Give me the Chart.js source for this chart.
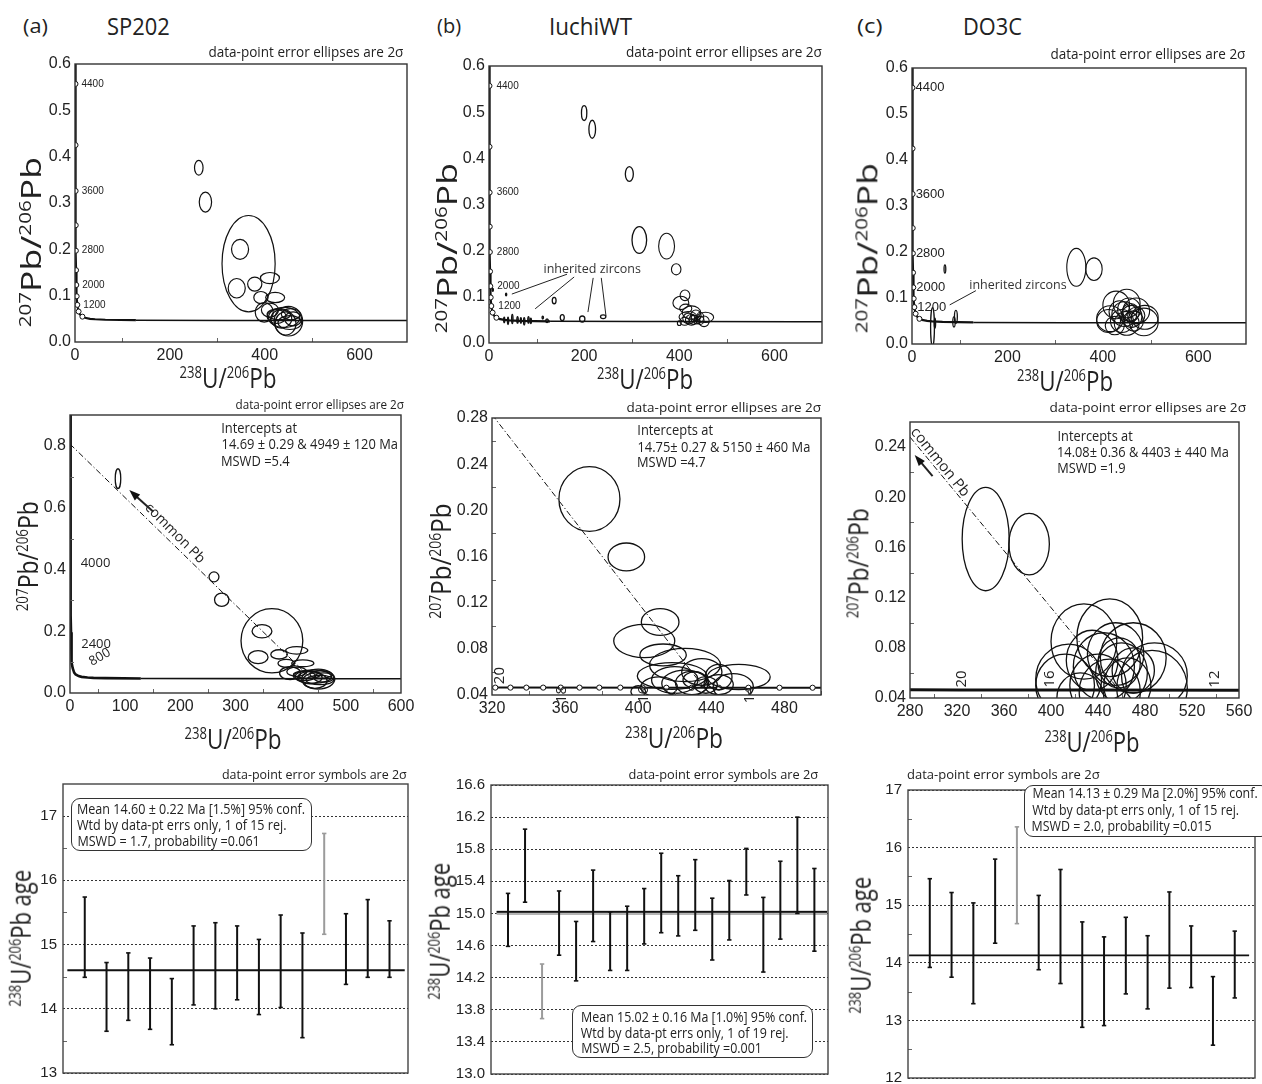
<!DOCTYPE html>
<html>
<head>
<meta charset="utf-8">
<title>U-Pb zircon: SP202, IuchiWT, DO3C</title>
<script src="https://cdn.jsdelivr.net/npm/chart.js@4.4.1/dist/chart.umd.min.js"></script>
<style>
  html, body { margin: 0; padding: 0; background: #fff; }
  #stage { position: relative; width: 1262px; height: 1084px; overflow: hidden;
           font-family: "Open Sans", "Noto Sans", sans-serif; color: #222; }
  .box { position: absolute; }
  .t { position: absolute; white-space: nowrap; line-height: 1.2; }
  .t sup { font-size: 0.58em; vertical-align: 0; position: relative; top: -0.62em; }
  .frame { position: absolute; border: 1.3px solid #333; border-radius: 9px; background: #fff; box-sizing: border-box; }
</style>
</head>
<body>
<div id="stage"></div>
<script>
// concordia curve (238U/206Pb, 207Pb/206Pb)
const concX = [0.806, 0.853, 0.960, 1.022, 1.163, 1.337, 1.556, 1.838, 2.217, 2.749, 3.549, 4.887, 7.57, 10.25, 15.62, 20.99, 31.73, 42.48, 63.96, 128.4];
const concY = [0.974, 0.845, 0.639, 0.557, 0.425, 0.326, 0.252, 0.197, 0.155, 0.123, 0.0987, 0.0801, 0.0658, 0.0599, 0.0547, 0.0523, 0.0501, 0.0491, 0.0480, 0.0470];
const concTailX = [128.4, 321.8, 429.3, 644.1, 715.6];
const concTailY = [0.0470, 0.0464, 0.0463, 0.0462, 0.0462];

// age marks on the concordia (Ma)
const markAge = ['4400', '4000', '3600', '3200', '2800', '2400', '2000', '1600', '1200', '800', '400'];
const markX = [1.022, 1.163, 1.337, 1.556, 1.838, 2.217, 2.749, 3.549, 4.887, 7.57, 15.62];
const markY = [0.557, 0.425, 0.326, 0.252, 0.197, 0.155, 0.123, 0.0987, 0.0801, 0.0658, 0.0547];
const markLabelled = ['4400', '3600', '2800', '2000', '1200'];

const youngAge = ['20', '19.5', '19', '18.5', '18', '17.5', '17', '16.5', '16', '15.5', '15', '14.5', '14', '13.5', '13'];
const youngX = [321.8, 330.1, 338.8, 348.0, 357.6, 367.9, 378.7, 390.2, 402.4, 415.4, 429.3, 444.1, 460.3, 477.3, 495.4];
const youngY = [0.0464, 0.0464, 0.0464, 0.0464, 0.0464, 0.0464, 0.0464, 0.0464, 0.0464, 0.0463, 0.0463, 0.0463, 0.0463, 0.0463, 0.0463];
const youngLabelled = ['20', '18', '16', '14'];
const doLabelAge = ['20', '16', '12'];
const doLabelX = [321.8, 402.4, 536.7];
const doLabelY = [0.0464, 0.0464, 0.0463];

// SP202 ellipses (centre, 2 sigma half axes)
const spX  = [87, 261, 275, 366, 348, 341, 379, 411, 392, 422, 399, 450, 411, 441, 453, 444, 425, 435, 455, 430, 460];
const spY  = [0.694, 0.376, 0.302, 0.169, 0.200, 0.116, 0.125, 0.138, 0.096, 0.096, 0.064, 0.045, 0.069, 0.053, 0.042, 0.040, 0.055, 0.050, 0.060, 0.060, 0.050];
const spRx = [5, 9, 13, 56, 18, 18, 15, 20, 15, 20, 19, 30, 18, 33, 25, 22, 20, 22, 20, 25, 18];
const spRy = [0.032, 0.016, 0.0215, 0.104, 0.0215, 0.021, 0.015, 0.012, 0.013, 0.011, 0.021, 0.032, 0.015, 0.0216, 0.015, 0.025, 0.015, 0.020, 0.012, 0.012, 0.015];
const spDiscX = [0, 437];
const spDiscY = [0.806, 0.047];
const spArrowX = [151, 107.5];
const spArrowY = [0.587, 0.657];

// IuchiWT ellipses
const iuX  = [373.3, 393.5, 412, 403.3, 413.6, 425.6, 418.5, 455, 444, 434.8, 429.4, 437, 425.6, 411.4, 444, 400, 452, 431, 420];
const iuY  = [0.2098, 0.1596, 0.1033, 0.0868, 0.0747, 0.066, 0.0565, 0.0556, 0.0556, 0.060, 0.0504, 0.0487, 0.050, 0.047, 0.049, 0.043, 0.047, 0.053, 0.053];
const iuRx = [16.7, 10, 10.3, 16.7, 12.7, 19.4, 19, 17.2, 7.3, 11, 9, 6.3, 12.7, 10, 8, 4, 11, 6.5, 12.7];
const iuRy = [0.028, 0.0121, 0.0116, 0.0144, 0.0095, 0.0144, 0.0116, 0.011, 0.011, 0.0116, 0.010, 0.0072, 0.0116, 0.0087, 0.0087, 0.005, 0.0115, 0.007, 0.0116];
// IuchiWT spots only seen on the full-range plot (inherited and high common Pb)
const iuOldX  = [200, 217, 295, 316, 8, 36, 137, 154, 196, 240, 122, 113, 32, 40, 49, 60, 67, 74, 83, 88];
const iuOldY  = [0.498, 0.463, 0.366, 0.223, 0.115, 0.105, 0.092, 0.055, 0.052, 0.057, 0.048, 0.055, 0.050, 0.048, 0.052, 0.050, 0.049, 0.047, 0.050, 0.048];
const iuOldRx = [5.6, 7, 8.4, 15.4, 1, 1.2, 4, 4.2, 5.6, 5.6, 2.8, 1.5, 1.2, 1.2, 1.5, 1.5, 1.2, 1.5, 1.5, 1.2];
const iuOldRy = [0.016, 0.0195, 0.016, 0.029, 0.003, 0.003, 0.007, 0.0065, 0.0065, 0.004, 0.004, 0.003, 0.006, 0.008, 0.010, 0.007, 0.006, 0.008, 0.007, 0.006];
const iuDiscX = [320, 436];
const iuDiscY = [0.283, 0.0464];
const iuLeadX1 = [164, 179, 219, 236];
const iuLeadY1 = [0.149, 0.143, 0.141, 0.141];
const iuLeadX2 = [48, 97, 208, 246];
const iuLeadY2 = [0.106, 0.074, 0.067, 0.058];

// DO3C ellipses
const doX  = [344.4, 381.4, 428, 450, 415, 412, 470, 488, 486, 445, 455, 460, 440, 465, 450, 435, 458, 425, 470];
const doY  = [0.1667, 0.1627, 0.085, 0.088, 0.055, 0.050, 0.072, 0.058, 0.048, 0.065, 0.075, 0.060, 0.050, 0.050, 0.045, 0.070, 0.068, 0.040, 0.062];
const doRx = [20, 17.2, 28, 28, 28, 25, 28, 28, 30, 26, 24, 22, 24, 20, 26, 22, 18, 20, 18];
const doRy = [0.0412, 0.0245, 0.030, 0.031, 0.028, 0.025, 0.028, 0.026, 0.030, 0.027, 0.025, 0.024, 0.025, 0.022, 0.026, 0.024, 0.020, 0.020, 0.018];
const doOldX  = [69, 92, 88, 43, 48];
const doOldY  = [0.163, 0.059, 0.048, 0.037, 0.045];
const doOldRx = [1.8, 3, 2.5, 4, 1.5];
const doOldRy = [0.009, 0.014, 0.011, 0.042, 0.011];
const doDiscX = [280, 458];
const doDiscY = [0.248, 0.0464];
const doArrowX = [299.2, 284];
const doArrowY = [0.2169, 0.2336];
const doLeadX1 = [134];
const doLeadY1 = [0.116];
const doLeadX2 = [79];
const doLeadY2 = [0.085];

// 238U/206Pb ages (Ma), 2 sigma low / high
const spAgeLo = [14.49, 13.65, 13.82, 13.68, 13.44, 14.06, 14.00, 14.14, 13.91, 14.02, 13.55, 15.16, 14.38, 14.49, 14.49];
const spAgeHi = [15.74, 14.72, 14.87, 14.79, 14.47, 15.29, 15.34, 15.29, 15.08, 15.46, 15.18, 16.73, 15.48, 15.70, 15.37];
const spRejected = 11;
const spMean = 14.60;
const iuAgeLo = [14.59, 15.14, 13.69, 14.48, 14.16, 14.65, 14.29, 14.29, 14.62, 14.76, 14.72, 14.79, 14.42, 14.67, 15.23, 14.27, 14.68, 15.00, 14.53];
const iuAgeHi = [15.25, 16.05, 14.37, 15.28, 14.90, 15.54, 15.02, 15.09, 15.31, 15.75, 15.47, 15.67, 15.19, 15.41, 15.81, 15.20, 15.65, 16.20, 15.56];
const iuRejected = 2;
const iuMean = 15.02;
const doAgeLo = [13.92, 13.75, 13.29, 14.34, 14.68, 13.88, 13.64, 12.88, 12.91, 13.46, 13.20, 13.56, 13.57, 12.57, 13.39];
const doAgeHi = [15.46, 15.22, 15.04, 15.80, 16.36, 15.17, 15.62, 14.71, 14.45, 14.79, 14.47, 15.23, 14.64, 13.76, 14.55];
const doRejected = 4;
const doMean = 14.13;

// ticks
const tickX1 = [0, 200, 400, 600];
const tickY1 = [0, 0.1, 0.2, 0.3, 0.4, 0.5, 0.6];
const minorX1 = [100, 300, 500];
const tickXa2 = [0, 100, 200, 300, 400, 500, 600];
const tickYa2 = [0, 0.2, 0.4, 0.6, 0.8];
const minorXa2 = [50, 150, 250, 350, 450, 550];
const minorYa2 = [0.1, 0.3, 0.5, 0.7];
const tickXb2 = [320, 360, 400, 440, 480];
const tickYb2 = [0.04, 0.08, 0.12, 0.16, 0.20, 0.24, 0.28];
const minorXb2 = [340, 380, 420, 460, 500];
const minorYb2 = [0.06, 0.10, 0.14, 0.18, 0.22, 0.26];
const tickXc2 = [280, 320, 360, 400, 440, 480, 520, 560];
const tickYc2 = [0.04, 0.08, 0.12, 0.16, 0.20, 0.24];
const minorXc2 = [300, 340, 380, 420, 460, 500, 540];
const minorYc2 = [0.06, 0.10, 0.14, 0.18, 0.22];
const tickYa3 = [13, 14, 15, 16, 17];
const minorYa3 = [13.5, 14.5, 15.5, 16.5];
const tickYb3 = [13.0, 13.4, 13.8, 14.2, 14.6, 15.0, 15.4, 15.8, 16.2, 16.6];
const tickYc3 = [12, 13, 14, 15, 16, 17];
const minorYc3 = [12.5, 13.5, 14.5, 15.5, 16.5];

const stage = document.getElementById('stage');
const extras = {};
const TICK_FONT = { family: '"Liberation Sans", Arial, sans-serif', size: 16 };
const pts = (xs, ys) => xs.map((x, i) => ({ x, y: ys[i] }));

Chart.register({
  id: 'geoMarks',
  afterDatasetsDraw(chart) {
    const ex = extras[chart.canvas.id];
    if (!ex) return;
    const { ctx, chartArea: a } = chart;
    const xs = chart.scales.x, ys = chart.scales.y;
    // error ellipses
    chart.data.datasets.forEach((ds, i) => {
      if (!ds.rx) return;
      const meta = chart.getDatasetMeta(i);
      ctx.save();
      ctx.beginPath();
      ctx.rect(a.left, a.top, a.right - a.left, a.bottom - a.top);
      ctx.clip();
      ctx.strokeStyle = '#111';
      ctx.lineWidth = ds.ellipseWidth || 1.2;
      meta.data.forEach((p, j) => {
        const v = ds.data[j];
        const rxp = Math.abs(xs.getPixelForValue(v.x + ds.rx[j]) - p.x);
        const ryp = Math.abs(ys.getPixelForValue(v.y + ds.ry[j]) - p.y);
        ctx.beginPath();
        ctx.ellipse(p.x, p.y, Math.max(rxp, 0.6), Math.max(ryp, 0.6), 0, 0, Math.PI * 2);
        ctx.stroke();
      });
      ctx.restore();
    });
    // minor ticks
    ctx.save();
    ctx.strokeStyle = '#666';
    ctx.lineWidth = 1;
    (ex.minorX || []).forEach(v => {
      const px = Math.round(xs.getPixelForValue(v)) + 0.5;
      ctx.beginPath(); ctx.moveTo(px, a.bottom); ctx.lineTo(px, a.bottom - 4); ctx.stroke();
    });
    (ex.minorY || []).forEach(v => {
      const py = Math.round(ys.getPixelForValue(v)) + 0.5;
      ctx.beginPath(); ctx.moveTo(a.left, py); ctx.lineTo(a.left + 4, py); ctx.stroke();
    });
    ctx.restore();
    // notes
    (ex.notes || []).forEach(n => {
      ctx.save();
      if (n.kind === 'text') {
        ctx.translate(xs.getPixelForValue(n.x) + (n.dx || 0), ys.getPixelForValue(n.y) + (n.dy || 0));
        ctx.rotate((n.rot || 0) * Math.PI / 180);
        ctx.font = n.font;
        ctx.fillStyle = n.color || '#222';
        ctx.textAlign = n.align || 'left';
        ctx.textBaseline = 'middle';
        ctx.fillText(n.text, 0, 0);
      } else {
        const x1 = xs.getPixelForValue(n.x1), y1 = ys.getPixelForValue(n.y1);
        const x2 = xs.getPixelForValue(n.x2), y2 = ys.getPixelForValue(n.y2);
        ctx.strokeStyle = '#222';
        ctx.fillStyle = '#111';
        ctx.lineWidth = n.kind === 'arrow' ? 2 : 1;
        const ang = Math.atan2(y2 - y1, x2 - x1);
        const back = n.kind === 'arrow' ? 8 : 0;
        ctx.beginPath();
        ctx.moveTo(x1, y1);
        ctx.lineTo(x2 - back * Math.cos(ang), y2 - back * Math.sin(ang));
        ctx.stroke();
        if (n.kind === 'arrow') {
          ctx.beginPath();
          ctx.moveTo(x2, y2);
          ctx.lineTo(x2 - 11 * Math.cos(ang) + 4 * Math.sin(ang), y2 - 11 * Math.sin(ang) - 4 * Math.cos(ang));
          ctx.lineTo(x2 - 11 * Math.cos(ang) - 4 * Math.sin(ang), y2 - 11 * Math.sin(ang) + 4 * Math.cos(ang));
          ctx.closePath();
          ctx.fill();
        }
      }
      ctx.restore();
    });
  },
  afterDraw(chart) {
    const ex = extras[chart.canvas.id];
    if (!ex) return;
    const { ctx, chartArea: a } = chart;
    ctx.save();
    ctx.strokeStyle = ex.frameColor || '#333';
    ctx.lineWidth = 1.4;
    ctx.strokeRect(a.left, a.top, a.right - a.left, a.bottom - a.top);
    ctx.restore();
  }
});

function axis(min, max, ticks, digits, show) {
  return {
    type: 'linear', min, max,
    grid: { display: false, drawTicks: false },
    border: { display: false },
    ticks: {
      display: show !== false, font: TICK_FONT, color: '#222', padding: 4,
      autoSkip: false, maxRotation: 0, callback: v => v.toFixed(digits)
    },
    afterBuildTicks: s => { s.ticks = ticks.map(v => ({ value: v })); }
  };
}

function mountChart(id, area, config, extra) {
  const padL = 60, padR = 30, padT = 14, padB = 32;
  const div = document.createElement('div');
  div.className = 'box';
  div.style.left = (area.l - padL) + 'px';
  div.style.top = (area.t - padT) + 'px';
  div.style.width = (area.r - area.l + padL + padR) + 'px';
  div.style.height = (area.b - area.t + padT + padB) + 'px';
  const cv = document.createElement('canvas');
  cv.id = id;
  div.appendChild(cv);
  stage.appendChild(div);
  extras[id] = extra || {};
  const o = config.options;
  o.responsive = true;
  o.maintainAspectRatio = false;
  o.animation = false;
  o.events = [];
  o.plugins = { legend: { display: false }, tooltip: { enabled: false } };
  o.layout = { autoPadding: false, padding: { left: 0, right: padR, top: padT, bottom: 0 } };
  o.scales.x.afterFit = s => { s.height = padB; };
  o.scales.y.afterFit = s => { s.width = padL; };
  return new Chart(cv, config);
}

const lineDs = (xs, ys, w, dash) => ({
  type: 'line', data: pts(xs, ys), borderColor: '#111', borderWidth: w,
  borderDash: dash || [], pointRadius: 0, fill: false, tension: 0
});
const markDs = (xs, ys, r) => ({
  data: pts(xs, ys), pointRadius: r, pointBackgroundColor: '#fff',
  pointBorderColor: '#111', pointBorderWidth: 1
});
const ellDs = (xs, ys, rx, ry, w) => ({ data: pts(xs, ys), pointRadius: 0, rx, ry, ellipseWidth: w });
const DASHDOT = [6, 2.5, 1.2, 2.5];

function scatterPanel(id, area, xAx, yAx, datasets, extra) {
  return mountChart(id, area, { type: 'scatter', data: { datasets }, options: { scales: { x: xAx, y: yAx } } }, extra);
}

function ageNotes(dx, font) {
  return markAge.map((a, i) => markLabelled.includes(a)
    ? { kind: 'text', x: markX[i], y: markY[i], dx, dy: 0, text: a, font } : null).filter(Boolean);
}
function leaders(x1, y1, x2, y2) {
  return x1.map((x, i) => ({ kind: 'seg', x1: x, y1: y1[i], x2: x2[i], y2: y2[i] }));
}

// ---------- row 1: full Tera-Wasserburg diagrams ----------
scatterPanel('c1a', { l: 75, t: 64, r: 407, b: 342 },
  axis(0, 700, tickX1, 0), axis(0, 0.6, tickY1, 1), [
    markDs(markX, markY, 2.5),
    ellDs(spX, spY, spRx, spRy, 1.2),
    lineDs(concX, concY, 2.2),
    lineDs(concTailX, concTailY, 1.5)
  ], { minorX: minorX1, notes: ageNotes(6, '10px "Liberation Sans"') });

scatterPanel('c1b', { l: 489, t: 66, r: 822, b: 343 },
  axis(0, 700, tickX1, 0), axis(0, 0.6, tickY1, 1), [
    markDs(markX, markY, 2.5),
    ellDs(iuX, iuY, iuRx, iuRy, 1.1),
    ellDs(iuOldX, iuOldY, iuOldRx, iuOldRy, 1.3),
    lineDs(concX, concY, 2.2),
    lineDs(concTailX, concTailY, 1.5)
  ], {
    minorX: minorX1,
    notes: ageNotes(7, '10px "Liberation Sans"').concat(
      leaders(iuLeadX1, iuLeadY1, iuLeadX2, iuLeadY2),
      [{ kind: 'text', x: 217, y: 0.16, text: 'inherited zircons', align: 'center', font: '12.5px "Open Sans"', color: '#333' }])
  });

scatterPanel('c1c', { l: 912, t: 68, r: 1246, b: 344 },
  axis(0, 700, tickX1, 0), axis(0, 0.6, tickY1, 1), [
    markDs(markX, markY, 2.5),
    ellDs(doX, doY, doRx, doRy, 1.1),
    ellDs(doOldX, doOldY, doOldRx, doOldRy, 1.3),
    lineDs(concX, concY, 2.2),
    lineDs(concTailX, concTailY, 1.5)
  ], {
    minorX: minorX1,
    notes: ageNotes(3, '13px "Liberation Sans"').concat(
      leaders(doLeadX1, doLeadY1, doLeadX2, doLeadY2),
      [{ kind: 'text', x: 222, y: 0.128, text: 'inherited zircons', align: 'center', font: '12.5px "Open Sans"', color: '#333' }])
  });

// ---------- row 2: zoomed diagrams with common-Pb regression ----------
scatterPanel('c2a', { l: 70, t: 415, r: 401, b: 693 },
  axis(0, 600, tickXa2, 0), axis(0, 0.9, tickYa2, 1), [
    ellDs(spX, spY, spRx, spRy, 1.3),
    lineDs(spDiscX, spDiscY, 1, DASHDOT),
    lineDs(concX, concY, 2.6),
    lineDs(concTailX, concTailY, 1.6)
  ], {
    minorX: minorXa2, minorY: minorYa2,
    notes: [
      { kind: 'text', x: markX[1], y: markY[1], dx: 10, dy: 2, text: '4000', font: '13px "Open Sans"' },
      { kind: 'text', x: markX[5], y: markY[5], dx: 10, dy: -1, text: '2400', font: '13px "Open Sans"' },
      { kind: 'text', x: markX[9], y: markY[9], dx: 16, dy: -10, rot: -30, text: '800', font: '13px "Open Sans"' },
      { kind: 'text', x: 190, y: 0.517, rot: 45, align: 'center', text: 'common Pb', font: '14px "Open Sans"' },
      { kind: 'arrow', x1: spArrowX[0], y1: spArrowY[0], x2: spArrowX[1], y2: spArrowY[1] }
    ]
  });

scatterPanel('c2b', { l: 492, t: 418, r: 821, b: 695 },
  axis(320, 500, tickXb2, 0), axis(0.04, 0.28, tickYb2, 2), [
    markDs(youngX, youngY, 2.6),
    ellDs(iuX, iuY, iuRx, iuRy, 1.3),
    lineDs(iuDiscX, iuDiscY, 1, DASHDOT),
    lineDs(concTailX, concTailY, 2)
  ], {
    minorX: minorXb2, minorY: minorYb2,
    notes: youngAge.map((a, i) => youngLabelled.includes(a) ? {
      kind: 'text', x: youngX[i], y: youngY[i], dx: a === '20' ? 4 : 1, dy: a === '20' ? -12 : 7,
      rot: -90, align: 'center', text: a, font: '15px "Open Sans"'
    } : null).filter(Boolean)
  });

scatterPanel('c2c', { l: 910, t: 422, r: 1239, b: 698 },
  axis(280, 560, tickXc2, 0), axis(0.04, 0.26, tickYc2, 2), [
    ellDs(doX, doY, doRx, doRy, 1.3),
    lineDs(doDiscX, doDiscY, 1, DASHDOT),
    lineDs(concTailX, concTailY, 3)
  ], {
    minorX: minorXc2, minorY: minorYc2,
    notes: doLabelAge.map((a, i) => ({
      kind: 'text', x: doLabelX[i], y: doLabelY[i], dx: a === '16' ? -4 : 3, dy: -11,
      rot: -90, align: 'center', text: a, font: '15px "Open Sans"'
    })).concat([
      { kind: 'text', x: 305.5, y: 0.228, rot: 51, align: 'center', text: 'common Pb', font: '15px "Open Sans"' },
      { kind: 'arrow', x1: doArrowX[0], y1: doArrowY[0], x2: doArrowX[1], y2: doArrowY[1] }
    ])
  });

// ---------- row 3: weighted mean ages ----------
function agePanel(id, area, lo, hi, rej, mean, meanFrom, meanTo, yMin, yMax, yTicks, digits, yMinor, xMax, band) {
  const ds = [];
  lo.forEach((l, i) => {
    const c = i === rej ? '#9b9b9b' : '#111';
    ds.push({
      type: 'line', data: [{ x: i + 1, y: l }, { x: i + 1, y: hi[i] }],
      borderColor: c, borderWidth: 2, pointStyle: 'line', pointRadius: 2.2,
      pointBorderWidth: 1.6, pointBorderColor: c, pointBackgroundColor: c
    });
  });
  ds.push({ type: 'line', data: [{ x: meanFrom, y: mean }, { x: meanTo, y: mean }], borderColor: '#111', borderWidth: 1.8, pointRadius: 0 });
  if (band) ds.push({ type: 'line', data: [{ x: meanFrom, y: mean - 0.01 }, { x: meanTo, y: mean - 0.01 }], borderColor: '#b5b5b5', borderWidth: 4.5, pointRadius: 0 });
  const yAx = axis(yMin, yMax, yTicks, digits);
  yAx.ticks.font = { family: TICK_FONT.family, size: 15 };
  yAx.ticks.padding = 6;
  yAx.grid = { display: true, color: '#333', lineWidth: 1, drawTicks: false };
  yAx.border = { display: false, dash: [2, 2] };
  const xAx = axis(0, xMax, [0], 0, false);
  return scatterPanel(id, area, xAx, yAx, ds, { minorY: yMinor, frameColor: '#444' });
}

agePanel('c3a', { l: 63, t: 783, r: 408, b: 1073 }, spAgeLo, spAgeHi, spRejected, spMean, 0.2, 15.7,
  13, 17.5, tickYa3, 0, minorYa3, 15.85, false);
agePanel('c3b', { l: 491, t: 784, r: 828, b: 1074 }, iuAgeLo, iuAgeHi, iuRejected, iuMean, 0.33, 19.75,
  13.0, 16.6, tickYb3, 1, [], 19.8, true);
agePanel('c3c', { l: 908, t: 789, r: 1255, b: 1078 }, doAgeLo, doAgeHi, doRejected, doMean, 0.05, 15.66,
  12, 17, tickYc3, 0, minorYc3, 15.93, false);

// ---------- text ----------
function place(html, o) {
  const el = document.createElement('div');
  el.className = 't';
  el.innerHTML = html;
  el.style.fontSize = o.size + 'px';
  stage.appendChild(el);
  const w0 = el.offsetWidth, h0 = el.offsetHeight;
  const k = o.k || (o.w ? o.w / w0 : 1);
  const w = w0 * k;
  let cx = o.cx;
  if (cx === undefined) cx = o.left !== undefined ? o.left + w / 2 : o.right - w / 2;
  el.style.left = (cx - w0 / 2) + 'px';
  el.style.top = (o.cy - h0 / 2) + 'px';
  el.style.transform = 'rotate(' + (o.rot || 0) + 'deg) scaleX(' + k + ')';
  return { el, k };
}
function block(lines, left, centers, size, fitIdx, w) {
  const probe = place(lines[fitIdx], { left, cy: centers[fitIdx], size, w });
  lines.forEach((ln, i) => { if (i !== fitIdx) place(ln, { left, cy: centers[i], size, k: probe.k }); });
}
function frame(l, t, r, b) {
  const d = document.createElement('div');
  d.className = 'frame';
  d.style.left = l + 'px'; d.style.top = t + 'px';
  d.style.width = (r - l) + 'px'; d.style.height = (b - t) + 'px';
  stage.appendChild(d);
}

const PBPB = '<sup>207</sup>Pb/<sup>206</sup>Pb';
const UPB = '<sup>238</sup>U/<sup>206</sup>Pb';
const UPBAGE = '<sup>238</sup>U/<sup>206</sup>Pb age';
const ELL = 'data-point error ellipses are 2σ';
const SYM = 'data-point error symbols are 2σ';

place('(a)', { left: 23, cy: 26, size: 20, w: 25 });
place('SP202', { left: 107, cy: 26, size: 24, w: 63 });
place('(b)', { left: 437, cy: 26, size: 20, w: 24 });
place('IuchiWT', { left: 549, cy: 26, size: 24, w: 83 });
place('(c)', { left: 857, cy: 26, size: 20, w: 25 });
place('DO3C', { left: 963, cy: 26, size: 24, w: 59 });

place(ELL, { right: 403, cy: 52, size: 14, w: 195 });
place(ELL, { right: 822, cy: 52, size: 14, w: 196 });
place(ELL, { right: 1245, cy: 54, size: 14, w: 195 });
place(ELL, { right: 403, cy: 405, size: 13, w: 168 });
place(ELL, { right: 820, cy: 408, size: 13, w: 194 });
place(ELL, { right: 1245, cy: 408, size: 13, w: 196 });
place(SYM, { right: 407, cy: 775, size: 13, w: 185 });
place(SYM, { right: 818, cy: 775, size: 13, w: 190 });
place(SYM, { left: 907, cy: 775, size: 13, w: 193 });

place(UPB, { cx: 228, cy: 378, size: 27, w: 97 });
place(UPB, { cx: 645, cy: 379, size: 27, w: 96 });
place(UPB, { cx: 1065, cy: 381, size: 27, w: 96 });
place(UPB, { cx: 233, cy: 739, size: 27, w: 97 });
place(UPB, { cx: 674, cy: 738, size: 27, w: 98 });
place(UPB, { cx: 1092, cy: 742, size: 27, w: 95 });

place(PBPB, { cx: 31, cy: 242, size: 27, w: 170, rot: -90 });
place(PBPB, { cx: 447, cy: 248, size: 27, w: 170, rot: -90 });
place(PBPB, { cx: 867, cy: 248, size: 27, w: 170, rot: -90 });
place(PBPB, { cx: 28, cy: 556, size: 27, w: 110, rot: -90 });
place(PBPB, { cx: 441, cy: 561, size: 27, w: 115, rot: -90 });
place(PBPB, { cx: 858, cy: 563, size: 27, w: 110, rot: -90 });
place(UPBAGE, { cx: 21, cy: 938, size: 27, w: 137, rot: -90 });
place(UPBAGE, { cx: 440, cy: 931, size: 27, w: 137, rot: -90 });
place(UPBAGE, { cx: 861, cy: 945, size: 27, w: 137, rot: -90 });

block(['Intercepts at', '14.69 ± 0.29 &amp; 4949 ± 120 Ma', 'MSWD =5.4'], 221, [428, 444, 461], 14, 1, 176);
block(['Intercepts at', '14.75± 0.27 &amp; 5150 ± 460 Ma', 'MSWD =4.7'], 637, [430, 447, 462], 14, 1, 173);
block(['Intercepts at', '14.08± 0.36 &amp; 4403 ± 440 Ma', 'MSWD =1.9'], 1057, [436, 452, 468], 14, 1, 172);

frame(71, 798, 312, 851);
block(['Mean 14.60 ± 0.22 Ma [1.5%] 95% conf.', 'Wtd by data-pt errs only, 1 of 15 rej.', 'MSWD = 1.7, probability =0.061'],
  77, [809, 825, 841], 14, 0, 228);
frame(572, 1005, 813, 1058);
block(['Mean 15.02 ± 0.16 Ma [1.0%] 95% conf.', 'Wtd by data-pt errs only, 1 of 19 rej.', 'MSWD = 2.5, probability =0.001'],
  581, [1017, 1033, 1048], 14, 0, 226);
frame(1024, 785, 1270, 837);
block(['Mean 14.13 ± 0.29 Ma [2.0%] 95% conf.', 'Wtd by data-pt errs only, 1 of 15 rej.', 'MSWD = 2.0, probability =0.015'],
  1032, [793, 810, 826], 14, 0, 225);
</script>
</body>
</html>
